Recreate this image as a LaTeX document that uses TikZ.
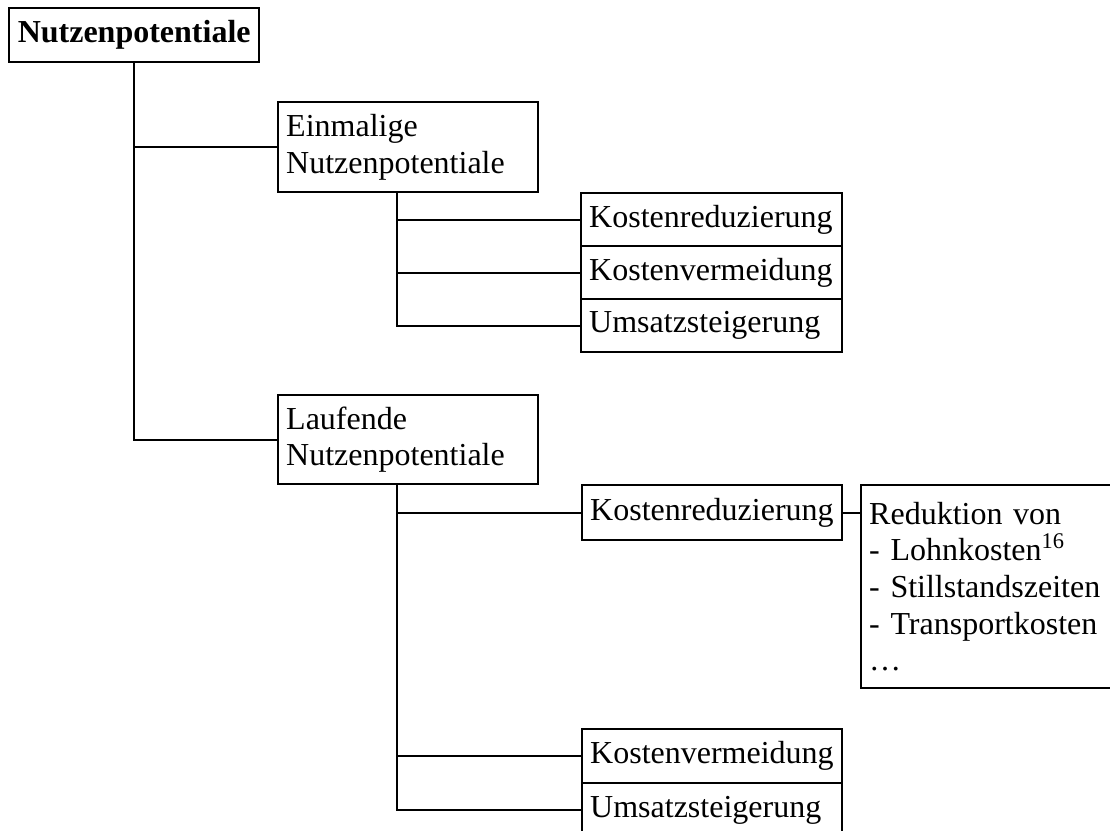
\documentclass[tikz,border=0pt]{standalone}
\usepackage{fontspec}
\setmainfont{Liberation Serif}
\usetikzlibrary{calc}
\begin{document}
\begin{tikzpicture}[x=0.5pt,y=-0.5pt,line width=1.2pt,
  box/.style={draw,rectangle,anchor=north west,inner xsep=4pt,inner ysep=0pt,
    align=left,font=\fontsize{16}{18.3}\selectfont},
  widebox/.style={box,text width=122pt},
  conn/.style={draw,line width=1.2pt}]
\clip (0,0) rectangle (1110,831);
\node[box,font=\bfseries\fontsize{16}{18.3}\selectfont,align=center,
  minimum width=125pt,minimum height=27pt] (root) at (8,7) {Nutzenpotentiale};
\node[widebox,minimum height=45pt] (ein) at (277,101) {Einmalige\\Nutzenpotentiale};
\node[widebox,minimum height=44.5pt] (lauf) at (277,394) {Laufende\\Nutzenpotentiale};
\node[widebox,text width=122.5pt,minimum height=26.5pt] (k1) at (580,192) {Kostenreduzierung};
\node[widebox,text width=122.5pt,minimum height=26.5pt] (k2) at (580,245) {Kostenvermeidung};
\node[widebox,text width=122.5pt,minimum height=26.5pt] (k3) at (580,298) {Umsatzsteigerung};
\node[widebox,minimum height=27.5pt] (kr) at (581,484) {Kostenreduzierung};
\node[box,text width=150pt,minimum height=101.5pt] (red) at (860,484)
  {Reduktion von\\- Lohnkosten\textsuperscript{16}\\- Stillstandszeiten\\- Transportkosten\\…};
\node[widebox,minimum height=27pt] (kv) at (581,728) {Kostenvermeidung};
\node[widebox,minimum height=27pt] (us) at (581,782) {Umsatzsteigerung};
\coordinate (et) at ([xshift=60pt]ein.south west);
\coordinate (lt) at ([xshift=60pt]lauf.south west);
\draw[conn] (root.south) |- (lauf.west);
\draw[conn] (root.south |- ein.west) -- (ein.west);
\draw[conn] (et) |- (k3.west);
\draw[conn] (et |- k1.west) -- (k1.west);
\draw[conn] (et |- k2.west) -- (k2.west);
\draw[conn] (lt) |- (us.west);
\draw[conn] (lt |- kr.west) -- (kr.west);
\draw[conn] (lt |- kv.west) -- (kv.west);
\draw[conn] (kr.east) -- (kr.east -| red.west);
\end{tikzpicture}
\end{document}
